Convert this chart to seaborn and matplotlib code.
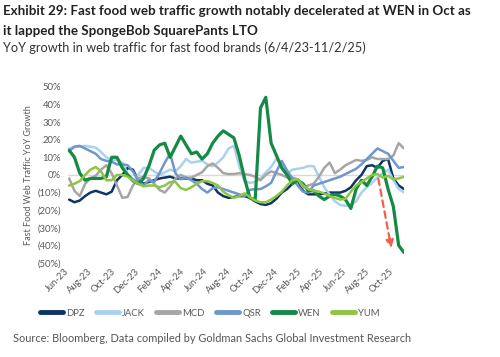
import matplotlib
matplotlib.use("Agg")
import matplotlib.pyplot as plt
import matplotlib.ticker as mticker
import seaborn as sns
import pandas as pd

# biweekly observations, 6/4/23 - 11/2/25 (YoY growth, %)
dates = pd.date_range("2023-06-04", "2025-11-02", freq="14D")

dpz = [-14, -15.5, -14.5, -12, -10, -9, -10, -11, -9.5, -3, 0, 4, 3, -3, -5, -4,
       -3, -2, -1.5, -1, -2, -2, -2, -2, -3, -3, -5, -6, -10, -12, -13, -12.5,
       -12, -12, -13, -15, -16.5, -17, -16, -13.5, -10, -8, -5, -3, -9, -11, -11, -11,
       -10.5, -10, -10, -10, -9, -7, -3, 0, 5, 5.5, 4, 8, 9, -2, -6, -8]
jack = [15, 16, 16, 16.5, 16, 15.5, 13, 10, 8.5, 8.5, 7, 0.5, -4, 0, 4, 4,
        2, 0, 1.5, 3, 2, 5, 9, 7, 7.5, 8, 6, 5, 7, 10, 15, 16.5,
        5, -3.5, -4.5, -4, -2, 1.5, 4.5, 9, 6, 1, 3, 3.5, 4, 5, 5, -1,
        -7, -11, -15, -17, -17.5, -17, -15, -10, -7, -4.5, -1.5, 1, 3, -3, -8, -10]
mcd = [-2, -9, -12, -5, -2, -0.5, 3, 5.5, 1, -6, -13, -12.5, -6, -2, -1, -2,
       -5, -8.5, -10, -6.5, -2, 0, -1.5, -1.5, 0, 1.5, 5, 6.5, 4, 1, 0.5, 0.5,
       1, 0.5, 0, -1, -3, 0, 2, 1, 0, -1.5, -1.5, -2.5, -7, -6, -5, -1,
       4, 7, 1, 3, 5.5, 7, 8.5, 8, 8.5, 10, 9, 9, 9, 11, 18, 15]
qsr = [13.5, 16, 16.5, 15, 13.5, 12, 9, 8, 7.5, 6, 6, 5.5, 2, -3, -6, -3,
       -4, 1, 7, 12, 1, -2.5, -1.5, -3, -5, -8, -10, -7.5, -7, -8, -9, -10,
       -11, -12, -8.5, -8, -8, -6.5, -4.5, 2, 8, 2.5, -2, -6, -9.5, -10, -6, -5,
       -4, -3, -2, -1, 0.5, 2, 3.5, 6, 9, 12, 15, 13.5, 12, 8, 4, 4.5]
wen = [14, 10, 1, -3, -2, -2, -2, -1, 10, 10, 4, 0, -3, -5, -2, 5,
       14, 17, 18, 10, 16, 22, 17, 12, 13, 9, 12, 18, 22, 25, 23, 21,
       11, -2, -13, -14, 38, 44, 18, 11, 4, 0, -5, -3, -5, -9, -9, -12,
       -14, -12, -11, -12, -14, -19, -8, -3, -6, -1, 5, 4, -8, -18, -40, -44]
yum = [-6, -5, -3.5, 0, 3, 4.5, 2, -3, -3, 0, 0, -1, -3, -5, -6.5, -6,
       -6, -7, -6, -4, -4, -7.5, -8.5, -7, -5, -3.5, -3.5, -4.5, -6, -9.5, -11.5, -13,
       -12, -10.5, -12.5, -14.5, -15.5, -15.5, -14, -12, -9.5, -6, -3, -2.5, -6, -8, -9, -9.5,
       -10.5, -12, -13, -14, -13.5, -9.5, -6, -4, -2, 0, 0.5, -1.5, -0.5, -2.5, -2, -1]

brands = ["DPZ", "JACK", "MCD", "QSR", "WEN", "YUM"]
values = [dpz, jack, mcd, qsr, wen, yum]
colors = {"DPZ": "#0e3563", "JACK": "#a9d2f0", "MCD": "#a6a6a6",
          "QSR": "#6f97cb", "WEN": "#148a45", "YUM": "#8dc641"}

df = pd.concat([pd.DataFrame({"date": dates, "growth": v, "brand": b})
                for b, v in zip(brands, values)], ignore_index=True)

sns.set_style("white")
plt.rcParams["font.family"] = ["Lato", "DejaVu Sans"]

fig = plt.figure(figsize=(5, 3.57), dpi=100)
ax = fig.add_axes([0.136, 0.263, 0.672, 0.494])

ax.axhline(0, color="#d9d9d9", lw=1, zorder=0)
for b in brands:
    sns.lineplot(data=df[df.brand == b], x="date", y="growth", ax=ax,
                 color=colors[b], lw=2.3 if b == "WEN" else 1.8, label=b)

# red dashed arrow on the WEN drop
ax.annotate("", xy=(pd.Timestamp("2025-10-01"), -43), xytext=(pd.Timestamp("2025-08-25"), -0.5),
            arrowprops=dict(arrowstyle="-|>,head_length=0.45,head_width=0.22",
                            color="#f0604d", lw=1.6, ls=(0, (3, 2))))

ax.set_ylim(-50, 50)
ax.set_yticks(range(-50, 51, 10))
ax.yaxis.set_major_formatter(mticker.FuncFormatter(
    lambda v, p: f"{v:.0f}%" if v >= 0 else f"({-v:.0f}%)"))
ticks = pd.date_range("2023-06-01", "2025-10-01", freq="2MS")
ax.set_xlim(pd.Timestamp("2023-06-01"), dates[-1])
ax.set_xticks(ticks)
ax.set_xticklabels([t.strftime("%b-%y") for t in ticks], rotation=45,
                   ha="right", va="center", rotation_mode="anchor")
ax.tick_params(length=0, labelsize=6.8, colors="#595959", pad=5)
ax.set_xlabel("")
ax.set_ylabel("")
sns.despine(ax=ax, left=True, bottom=True)

handles, labels = ax.get_legend_handles_labels()
ax.get_legend().remove()
leg = fig.legend(handles, labels, loc="center", bbox_to_anchor=(0.42, 0.123), ncol=6,
                 frameon=False, fontsize=6.8, handlelength=2.4, handletextpad=0.35,
                 columnspacing=1.2)
for h in leg.get_lines():
    h.set_linewidth(3.5)
for t in leg.get_texts():
    t.set_color("#595959")

fig.text(0.058, 1 - 175 / 357, "Fast Food Web Traffic YoY Growth", rotation=90,
         ha="center", va="center", fontsize=6.5, color="#595959")

fig.text(0.006, 1 - 11 / 357, "Exhibit 29: Fast food web traffic growth notably decelerated at WEN in Oct as",
         fontsize=9.6, fontweight="bold", color="#222222", va="center")
fig.text(0.006, 1 - 31 / 357, "it lapped the SpongeBob SquarePants LTO",
         fontsize=9.6, fontweight="bold", color="#222222", va="center")
fig.text(0.006, 1 - 48 / 357, "YoY growth in web traffic for fast food brands (6/4/23-11/2/25)",
         fontsize=9.2, color="#333333", va="center")
fig.text(0.026, 1 - 339 / 357,
         "Source: Bloomberg, Data compiled by Goldman Sachs Global Investment Research",
         fontsize=7.9, color="#555555", va="center")

fig.savefig("out.png", dpi=100)
